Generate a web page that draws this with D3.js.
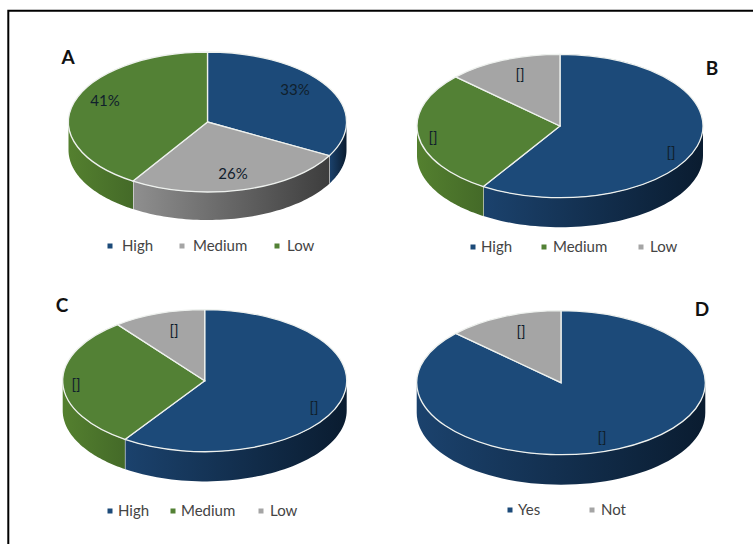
<!DOCTYPE html>
<html>
<head>
<meta charset="utf-8">
<script src="https://cdn.jsdelivr.net/npm/d3@7"></script>
<style>
  html, body { margin: 0; padding: 0; background: #fff; }
  svg { display: block; }
  text { font-family: Lato, "Open Sans", sans-serif; }
</style>
</head>
<body>
<svg id="chart" width="753" height="544"></svg>
<script>
// Category sets and shares for the four pies
const riskCategories = ["High", "Medium", "Low"];
const answerCategories = ["Yes", "Not"];
const valuesA = [33, 26, 41];
const valuesB = [59, 28, 13];
const valuesC = [59.5, 30, 10.5];
const valuesD = [87, 13];
const labelsA = ["33%", "26%", "41%"];
const labelsB = ["[]", "[]", "[]"];
const labelsC = ["[]", "[]", "[]"];
const labelsD = ["[]", "[]"];

const palette = { blue: "#1c4a79", green: "#538135", grey: "#a5a5a5" };
const wallShades = {
  blue: ["#1b426d", "#0a1c30"],
  green: ["#54802f", "#446a28"],
  grey: ["#8f8f8f", "#3d3d3d"]
};

// Ellipse geometry, label anchors and legend rows for each panel
const panels = [
  { id: "A", cats: riskCategories, values: valuesA, labels: labelsA, colors: ["blue", "grey", "green"],
    cx: 207.5, cy: 122, rx: 139, ry: 70, depth: 28,
    letter: [68, 57], labelPos: [[295, 90], [233, 174], [105, 101]],
    legend: [[110, 122, "High"], [182, 193, "Medium"], [277, 287, "Low"]], legendY: 246 },
  { id: "B", cats: riskCategories, values: valuesB, labels: labelsB, colors: ["blue", "green", "grey"],
    cx: 560, cy: 126, rx: 143, ry: 71.7, depth: 29.5,
    letter: [712, 68], labelPos: [[671, 153], [433, 138], [520, 75]],
    legend: [[473, 481, "High"], [544, 553, "Medium"], [641, 650, "Low"]], legendY: 247 },
  { id: "C", cats: riskCategories, values: valuesC, labels: labelsC, colors: ["blue", "green", "grey"],
    cx: 204.7, cy: 380.7, rx: 142, ry: 71, depth: 29.7,
    letter: [62, 305], labelPos: [[314, 408], [76, 385], [174, 331]],
    legend: [[110, 118, "High"], [173, 181, "Medium"], [261, 270, "Low"]], legendY: 511 },
  { id: "D", cats: answerCategories, values: valuesD, labels: labelsD, colors: ["blue", "grey"],
    cx: 561, cy: 382.7, rx: 144.3, ry: 72, depth: 30,
    letter: [702, 309], labelPos: [[602, 438], [521, 332]],
    legend: [[510, 518, "Yes"], [592, 601, "Not"]], legendY: 510 }
];

const svg = d3.select("#chart");

// Outer frame, open on the right and bottom edges of the page
svg.append("path")
  .attr("d", d3.line()([[8.3, 544], [8.3, 10.7], [753, 10.7]]))
  .attr("fill", "none").attr("stroke", "#000").attr("stroke-width", 2);

const defs = svg.append("defs");
const pie = d3.pie().sort(null).value(d => d);

panels.forEach(p => {
  const g = svg.append("g").attr("class", "panel-" + p.id);
  const arcs = pie(p.values);
  const sx = d3.scaleLinear().domain([-1, 1]).range([p.cx - p.rx, p.cx + p.rx]);
  const sy = d3.scaleLinear().domain([-1, 1]).range([p.cy - p.ry, p.cy + p.ry]);
  // pie angles run clockwise from twelve o'clock
  const px = a => sx(Math.sin(a));
  const py = a => sy(-Math.cos(a));

  // Rim: only the front half of the ellipse (angles 90deg..270deg) is visible
  const front0 = Math.PI / 2, front1 = Math.PI * 3 / 2;
  arcs.forEach((arc, i) => {
    const a0 = Math.max(arc.startAngle, front0);
    const a1 = Math.min(arc.endAngle, front1);
    if (a1 <= a0) return;
    const steps = d3.range(0, 61).map(k => a0 + (a1 - a0) * k / 60);
    const pts = steps.map(a => [px(a), py(a)])
      .concat(steps.slice().reverse().map(a => [px(a), py(a) + p.depth]));
    const name = p.colors[i];
    const gradId = `wall-${p.id}-${i}`;
    const xs = pts.map(d => d[0]);
    const grad = defs.append("linearGradient").attr("id", gradId)
      .attr("gradientUnits", "userSpaceOnUse")
      .attr("x1", d3.min(xs)).attr("x2", d3.max(xs)).attr("y1", 0).attr("y2", 0);
    grad.append("stop").attr("offset", "0%").attr("stop-color", wallShades[name][0]);
    grad.append("stop").attr("offset", "100%").attr("stop-color", wallShades[name][1]);
    g.append("path").attr("d", d3.line()(pts) + "Z")
      .attr("fill", `url(#${gradId})`);
    // Light seam where a slice boundary runs down the visible rim
    if (arc.endAngle > front0 && arc.endAngle < front1) {
      const a = arc.endAngle;
      g.append("path").attr("d", d3.line()([[px(a), py(a)], [px(a), py(a) + p.depth]]))
        .attr("stroke", "#e6e6e6").attr("stroke-width", 1.3);
    }
  });

  // Top face: a circular d3 arc flattened into an ellipse
  const arcGen = d3.arc().innerRadius(0).outerRadius(p.rx);
  const top = g.append("g")
    .attr("transform", `translate(${p.cx},${p.cy}) scale(1,${p.ry / p.rx})`);
  top.selectAll("path").data(arcs).join("path")
    .attr("d", arcGen)
    .attr("fill", (d, i) => palette[p.colors[i]])
    .attr("stroke", "#eef1ee")
    .attr("stroke-width", 1.3)
    .attr("vector-effect", "non-scaling-stroke");

  // Value labels
  g.selectAll("text.value").data(p.labels).join("text")
    .attr("class", "value")
    .attr("x", (d, i) => p.labelPos[i][0])
    .attr("y", (d, i) => p.labelPos[i][1])
    .attr("dy", "0.35em")
    .attr("text-anchor", "middle")
    .attr("font-size", 15)
    .attr("fill", "#10202c")
    .text(d => d);

  // Panel letter
  g.append("text")
    .attr("x", p.letter[0]).attr("y", p.letter[1])
    .attr("dy", "0.35em").attr("text-anchor", "middle")
    .attr("font-size", 19).attr("font-weight", 700).attr("fill", "#111")
    .text(p.id);

  // Legend row
  p.legend.forEach((row, i) => {
    g.append("rect")
      .attr("x", row[0] - 2.5).attr("y", p.legendY - 2.5)
      .attr("width", 5).attr("height", 5)
      .attr("fill", palette[p.colors[i]]);
    g.append("text")
      .attr("x", row[1]).attr("y", p.legendY)
      .attr("dy", "0.35em")
      .attr("font-size", 15).attr("fill", "#444")
      .text(row[2]);
  });
});
</script>
</body>
</html>
